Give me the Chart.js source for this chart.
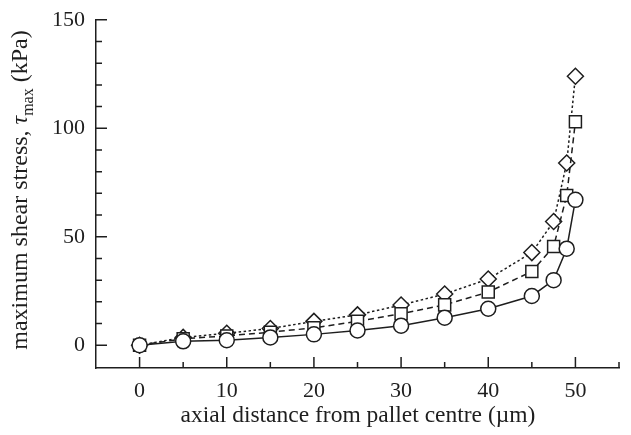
<!DOCTYPE html>
<html>
<head>
<meta charset="utf-8">
<script src="https://cdn.jsdelivr.net/npm/chart.js@4.4.0/dist/chart.umd.min.js"></script>
<style>
  body { margin: 0; background: #fff; }
  #wrap { width: 631px; height: 435px; }
</style>
</head>
<body>
<div id="wrap"><canvas id="stressChart" width="631" height="435"></canvas></div>
<script>
// data
const xValues = [0, 5, 10, 15, 20, 25, 30, 35, 40, 45, 47.5, 49, 50]
const circleSeries = [0, 1.8, 2.3, 3.6, 5, 6.8, 9, 12.7, 16.8, 22.7, 30, 44.5, 67]
const squareSeries = [0, 3, 4.3, 6, 8, 11, 14.5, 18.6, 24.5, 34, 45.5, 69, 103]
const diamondSeries = [0, 3.6, 5.5, 7.7, 11, 14, 18.5, 23.6, 30.5, 42.7, 57, 84, 124]

const xTickLabels = [0, 10, 20, 30, 40, 50]
const yTickLabels = [0, 50, 100, 150]
const xMinorTicks = [0, 5, 10, 15, 20, 25, 30, 35, 40, 45, 50, 55]
const yMinorTicks = [0, 10, 20, 30, 40, 50, 60, 70, 80, 90, 100, 110, 120, 130, 140, 150]

const ink = "#1e1e1e"
const serif = "'Liberation Serif', 'Times New Roman', serif"

const toPoints = (ys) => xValues.map((x, i) => ({ x: x, y: ys[i] }))

const makeSet = (label, ys, style, radius, dash) => ({
  label: label,
  data: toPoints(ys),
  borderColor: ink,
  borderWidth: 1.5,
  borderDash: dash,
  pointStyle: style,
  pointRadius: radius,
  pointHoverRadius: radius,
  pointBackgroundColor: "#fff",
  pointBorderColor: ink,
  pointBorderWidth: 1.5,
  tension: 0,
  fill: false,
})

// inward tick marks + axis titles
const axisDecor = {
  id: "axisDecor",
  afterDraw(chart) {
    const ctx = chart.ctx
    const xs = chart.scales.x
    const ys = chart.scales.y
    const a = chart.chartArea
    ctx.save()
    ctx.strokeStyle = ink
    ctx.lineWidth = 1.5
    ctx.beginPath()
    xMinorTicks.forEach((v) => {
      const px = xs.getPixelForValue(v)
      const len = v % 10 === 0 ? 11 : 6
      ctx.moveTo(px, a.bottom)
      ctx.lineTo(px, a.bottom - len)
    })
    yMinorTicks.forEach((v) => {
      const py = ys.getPixelForValue(v)
      const len = v % 50 === 0 ? 11 : 6
      ctx.moveTo(a.left, py)
      ctx.lineTo(a.left + len, py)
    })
    ctx.stroke()

    // x title
    ctx.fillStyle = ink
    ctx.font = "23.5px " + serif
    ctx.textAlign = "center"
    ctx.textBaseline = "alphabetic"
    ctx.fillText("axial distance from pallet centre (\u00b5m)", 358, 422)

    // y title with subscript
    const parts = [
      { t: "maximum shear stress, ", f: "24px " + serif, dy: 0 },
      { t: "\u03c4", f: "italic 24px " + serif, dy: 0 },
      { t: "max", f: "16px " + serif, dy: 6 },
      { t: " (kPa)", f: "24px " + serif, dy: 0 },
    ]
    let total = 0
    parts.forEach((p) => {
      ctx.font = p.f
      p.w = ctx.measureText(p.t).width
      total += p.w
    })
    ctx.translate(27, 190)
    ctx.rotate(-Math.PI / 2)
    ctx.textAlign = "left"
    let cx = -total / 2
    parts.forEach((p) => {
      ctx.font = p.f
      ctx.fillText(p.t, cx, p.dy)
      cx += p.w
    })
    ctx.restore()
  },
}

const config = {
  type: "line",
  data: {
    datasets: [
      makeSet("circles", circleSeries, "circle", 7.5, []),
      makeSet("squares", squareSeries, "rect", 8.5, [6, 4]),
      makeSet("diamonds", diamondSeries, "rectRot", 8, [2.5, 2.5]),
    ],
  },
  options: {
    responsive: false,
    animation: false,
    events: [],
    layout: { padding: { top: 16, right: 12, left: 0, bottom: 0 } },
    plugins: {
      legend: { display: false },
      tooltip: { enabled: false },
    },
    scales: {
      x: {
        type: "linear",
        min: -5,
        max: 55,
        afterBuildTicks: (s) => { s.ticks = xTickLabels.map((v) => ({ value: v })) },
        afterFit: (s) => { s.height = 435 - 368 },
        grid: { display: false, drawTicks: false },
        border: { display: true, color: ink, width: 1.5 },
        ticks: { color: ink, font: { family: serif, size: 22 }, padding: 10, maxRotation: 0 },
      },
      y: {
        type: "linear",
        min: -10.5,
        max: 150,
        afterBuildTicks: (s) => { s.ticks = yTickLabels.map((v) => ({ value: v })) },
        afterFit: (s) => { s.width = 96 },
        grid: { display: false, drawTicks: false },
        border: { display: true, color: ink, width: 1.5 },
        ticks: { color: ink, font: { family: serif, size: 22, lineHeight: 0.8 }, padding: 11 },
      },
    },
  },
  plugins: [axisDecor],
}

const myChart = new Chart(document.getElementById("stressChart"), config)
</script>
</body>
</html>
